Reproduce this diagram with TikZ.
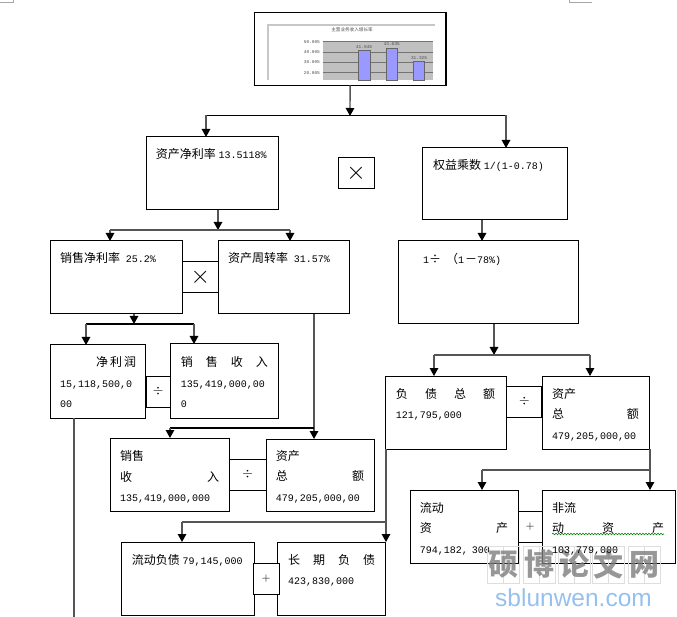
\documentclass[tikz,border=0pt]{standalone}
\usepackage{xcolor}
\usepackage{fontspec}
\setmainfont{Noto Sans CJK SC}
\setmonofont{Liberation Mono}
\newfontfamily\urlfont{Liberation Sans}
\usetikzlibrary{arrows.meta, positioning, calc, decorations.pathmorphing}
\definecolor{linkcolor}{RGB}{85, 85, 85}
\definecolor{barcolor}{RGB}{153, 153, 255}
\definecolor{plotcolor}{RGB}{192, 192, 192}
\definecolor{markcolor}{RGB}{125, 125, 125}
\definecolor{urlcolor}{RGB}{150, 192, 238}
\newcommand{\nm}[1]{{\ttfamily\fontsize{10}{21}\selectfont #1}}
\newcommand{\bigtimes}{\scalebox{2.5}{$\times$}}
\newcommand{\opdiv}{\scalebox{1.35}{$\div$}}
\newcommand{\opplus}{\scalebox{1.15}{$+$}}

\begin{document}
\begin{tikzpicture}[
    x=1pt, y=-1pt,
    box/.style={draw, line width=1pt, inner sep=0pt, outer sep=0pt},
    opbox/.style={draw, fill=white, line width=1pt, inner sep=0pt, outer sep=0pt, minimum width=#1, minimum height=31pt},
    lbl/.style={inner sep=0pt, anchor=north west, align=left, font=\fontsize{12}{20.7}\selectfont},
    link/.style={draw=linkcolor, line width=1.4pt},
    blink/.style={draw=black, line width=1.1pt},
    arrow/.style={draw=linkcolor, line width=1.4pt, -{Triangle[length=8pt, width=8.5pt, black]}},
    chartnum/.style={inner sep=0pt, font=\ttfamily\fontsize{4.4}{5}\selectfont, text=black!70},
    gridbox/.style={draw=black!13, line width=0.8pt, minimum width=32pt, minimum height=37pt, inner sep=0pt},
    marktext/.style={inner sep=0pt, text=markcolor, text opacity=0.8, font=\bfseries\fontsize{30}{30}\selectfont}
]
    \useasboundingbox (0,0) rectangle (677,617);

    % Page corner marks
    \draw[black!35, line width=0.8pt] (0,2) -- (13,2) -- (13,0);
    \draw[black!35, line width=0.8pt] (592,2) -- (569,2) -- (569,0);

    % Chart box
    \node[box, line width=1.2pt, minimum width=191.5pt, minimum height=73pt] (chart) at (350.2, 49) {};
    \draw[black!22, line width=1.6pt] (268,80) -- (268,25) -- (435,25);
    \fill[plotcolor] (323,41.7) rectangle (433,80);
    \draw[black!55, line width=0.7pt] (323,41.7) -- (433,41.7);
    \draw[black!55, line width=0.7pt] (323,52) -- (433,52);
    \draw[black!55, line width=0.7pt] (323,62.7) -- (433,62.7);
    \draw[black!55, line width=0.7pt] (323,72.7) -- (433,72.7);
    \draw[black!60, fill=barcolor, line width=0.7pt] (358.5,80) rectangle (370,50.7);
    \draw[black!60, fill=barcolor, line width=0.7pt] (386.5,80) rectangle (397.5,48.3);
    \draw[black!60, fill=barcolor, line width=0.7pt] (413.5,80) rectangle (424.5,61.3);
    \node[inner sep=0pt, text=black!70, font=\fontsize{4.6}{5}\selectfont] (charttitle) at (352,30) {主营业务收入增长率};
    \node[chartnum, anchor=east] (y50) at (320,41.7) {50.00\%};
    \node[chartnum, anchor=east] (y40) at (320,52.3) {40.00\%};
    \node[chartnum, anchor=east] (y30) at (320,62.5) {30.00\%};
    \node[chartnum, anchor=east] (y20) at (320,72.7) {20.00\%};
    \node[chartnum] (bar1) at (364,46.7) {41.54\%};
    \node[chartnum] (bar2) at (391.7,44.3) {43.63\%};
    \node[chartnum] (bar3) at (419,57.7) {31.32\%};

    % Upper boxes
    \node[box, minimum width=131.5pt, minimum height=73pt] (roe) at (212.3, 173.5) {};
    \node[lbl] (roeT) at (155.7,148) {资产净利率 \nm{13.5118\%}};
    \node[box, minimum width=145pt, minimum height=72pt] (equity) at (494.5, 184) {};
    \node[lbl] (equityT) at (433,159.5) {权益乘数 \nm{1/(1-0.78)}};
    \node[opbox=36pt] (times1) at (356, 173.5) {\bigtimes};
    \node[box, minimum width=132.5pt, minimum height=73pt] (margin) at (116.4, 277.5) {};
    \node[lbl] (marginT) at (60,252) {销售净利率 \hspace{3pt}\nm{25.2\%}};
    \node[box, minimum width=131.5pt, minimum height=73pt] (turnover) at (283.8, 277.5) {};
    \node[lbl] (turnoverT) at (228,252) {资产周转率 \hspace{3pt}\nm{31.57\%}};
    \node[opbox=35.3pt] (times2) at (200.4, 277.5) {\bigtimes};
    \node[box, minimum width=180pt, minimum height=83pt] (ratio) at (488, 282.5) {};
    \node[lbl] (ratioT) at (423,253) {\nm{1}÷\hspace{5pt}（\nm{1}\hspace{1pt}－\nm{78\%)}};

    % Net profit and sales
    \node[box, minimum width=95.7pt, minimum height=73pt] (profit) at (97.9, 381.5) {};
    \node[lbl, text width=76pt] (profitT) at (60,356) {\hfill 净\hspace{2pt}利\hspace{2pt}润\\ \nm{15,118,500,0}\\ \nm{00}};
    \node[box, minimum width=108pt, minimum height=74pt] (sales1) at (224, 381) {};
    \node[lbl, text width=87pt] (sales1T) at (180.7,356) {销\hfill 售\hfill 收\hfill 入\\ \nm{135,419,000,00}\\ \nm{0}};
    \node[opbox=24pt] (div1) at (158, 391.5) {\opdiv};

    % Liability and assets
    \node[box, minimum width=120.7pt, minimum height=73pt] (debt) at (446.3, 412.5) {};
    \node[lbl, text width=99.3pt] (debtT) at (395.7,388) {负\hfill 债\hfill 总\hfill 额\\ \nm{121,795,000}};
    \node[box, minimum width=107pt, minimum height=73pt] (asset1) at (595.5, 412.5) {};
    \node[lbl, text width=86.7pt] (asset1T) at (552,388) {资产\\ 总\hfill 额\\ \nm{479,205,000,00}};
    \node[opbox=35.3pt] (div2) at (524.3, 401.5) {\opdiv};

    % Sales and total assets
    \node[box, minimum width=119pt, minimum height=73pt] (sales2) at (169.5, 474.5) {};
    \node[lbl, text width=99pt] (sales2T) at (120,450) {销售\\ 收\hfill 入\\ \nm{135,419,000,000}};
    \node[box, minimum width=108pt, minimum height=72pt] (asset2) at (320, 475) {};
    \node[lbl, text width=88.3pt] (asset2T) at (275.7,450) {资产\\ 总\hfill 额\\ \nm{479,205,000,00}};
    \node[opbox=37pt] (div3) at (247.5, 474.5) {\opdiv};

    % Current and non-current assets
    \node[box, minimum width=108pt, minimum height=73pt] (cassets) at (464, 526.5) {};
    \node[lbl, text width=88.3pt] (cassetsT) at (419.7,502) {流动\\ 资\hfill 产\\ \nm{794,182, 300}};
    \node[box, minimum width=133pt, minimum height=73pt] (ncassets) at (608.5, 526.5) {};
    \node[opbox=24pt] (plus1) at (530, 526.5) {\opplus};
    \draw[green!50!black, line width=0.6pt, decorate, decoration={snake, amplitude=0.8pt, segment length=3pt}] (552,534) -- (664,534);

    % Current and long term liabilities
    \node[box, minimum width=133pt, minimum height=73pt] (cdebt) at (187.5, 578.5) {};
    \node[lbl] (cdebtT) at (131.7,554) {流动负债 \nm{79,145,000}};
    \node[box, minimum width=108pt, minimum height=73pt] (ltdebt) at (331, 578.5) {};
    \node[lbl, text width=87pt] (ltdebtT) at (288,554) {长\hfill 期\hfill 负\hfill 债\\ \nm{423,830,000}};
    \node[opbox=26pt] (plus2) at (266, 578.5) {\opplus};

    % Branch points
    \coordinate (topjoin) at (350,116);
    \coordinate (topL) at (206,115.5);
    \coordinate (topR) at (506,115.5);
    \coordinate (roejoin) at (218,230);
    \coordinate (roeL) at (110,230);
    \coordinate (roeR) at (290,230);
    \coordinate (marginjoin) at (134,324);
    \coordinate (marginL) at (86,324);
    \coordinate (marginR) at (194,324);
    \coordinate (turnL) at (170,428);
    \coordinate (turnR) at (314,428);
    \coordinate (ratiojoin) at (494,355);
    \coordinate (ratioL) at (434,355);
    \coordinate (ratioR) at (590,355);
    \coordinate (assetL) at (482,470);
    \coordinate (assetR) at (650,470);
    \coordinate (debtL) at (182,522);
    \coordinate (debtR) at (386,522);
    \coordinate (profitend) at (74,617);
    \coordinate (equityin) at (482,241);

    % Connections
    \draw[arrow] (chart) -- (topjoin);
    \draw[blink] (topL) -- (topR);
    \draw[arrow] (topL) -- (topL |- roe.north);
    \draw[arrow] (topR) -- (topR |- equity.north);
    \draw[arrow] (roejoin |- roe.south) -- (roejoin);
    \draw[link] (roeL) -- (roeR);
    \draw[arrow] (roeL) -- (roeL |- margin.north);
    \draw[arrow] (roeR) -- (roeR |- turnover.north);
    \draw[arrow] (equityin |- equity.south) -- (equityin |- ratio.north);
    \draw[arrow] (marginjoin |- margin.south) -- (marginjoin);
    \draw[blink] (marginL) -- (marginR);
    \draw[arrow] (marginL) -- (marginL |- profit.north);
    \draw[arrow] (marginR) -- (marginR |- sales1.north);
    \draw[link] (profitend |- profit.south) -- (profitend);
    \draw[arrow] (turnR |- turnover.south) -- (turnR |- asset2.north);
    \draw[blink] (turnL) -- (turnR);
    \draw[arrow] (turnL) -- (turnL |- sales2.north);
    \draw[arrow] (ratiojoin |- ratio.south) -- (ratiojoin);
    \draw[link] (ratioL) -- (ratioR);
    \draw[arrow] (ratioL) -- (ratioL |- debt.north);
    \draw[arrow] (ratioR) -- (ratioR |- asset1.north);
    \draw[arrow] (assetR |- asset1.south) -- (assetR |- ncassets.north);
    \draw[link] (assetL) -- (assetR);
    \draw[arrow] (assetL) -- (assetL |- cassets.north);
    \draw[arrow] (debtR |- debt.south) -- (debtR |- ltdebt.north);
    \draw[link] (debtL) -- (debtR);
    \draw[arrow] (debtL) -- (debtL |- cdebt.north);

    % Watermark
    \node[gridbox] (grid1) at (503.5,564.5) {};
    \node[gridbox] (grid2) at (539,564.5) {};
    \node[gridbox] (grid3) at (574,564.5) {};
    \node[gridbox] (grid4) at (608.5,564.5) {};
    \node[gridbox] (grid5) at (644,564.5) {};
    \draw[black!13, line width=0.6pt] (grid1.north) -- (grid1.south);
    \draw[black!13, line width=0.6pt] (grid2.north) -- (grid2.south);
    \draw[black!13, line width=0.6pt] (grid3.north) -- (grid3.south);
    \draw[black!13, line width=0.6pt] (grid4.north) -- (grid4.south);
    \draw[black!13, line width=0.6pt] (grid5.north) -- (grid5.south);
    \node[marktext] (mark1) at (grid1) {硕};
    \node[marktext] (mark2) at (grid2) {博};
    \node[marktext] (mark3) at (grid3) {论};
    \node[marktext] (mark4) at (grid4) {文};
    \node[marktext] (mark5) at (grid5) {网};
    \node[inner sep=0pt, text=urlcolor, font=\urlfont\fontsize{24.5}{24.5}\selectfont] (url) at (573.5,598) {sblunwen.com};

    % Label that shows over the watermark
    \node[lbl, text width=112pt] (ncassetsT) at (552,502) {非流\\ 动\hfill 资\hfill 产\\ \nm{103,779,000}};
\end{tikzpicture}
\end{document}
